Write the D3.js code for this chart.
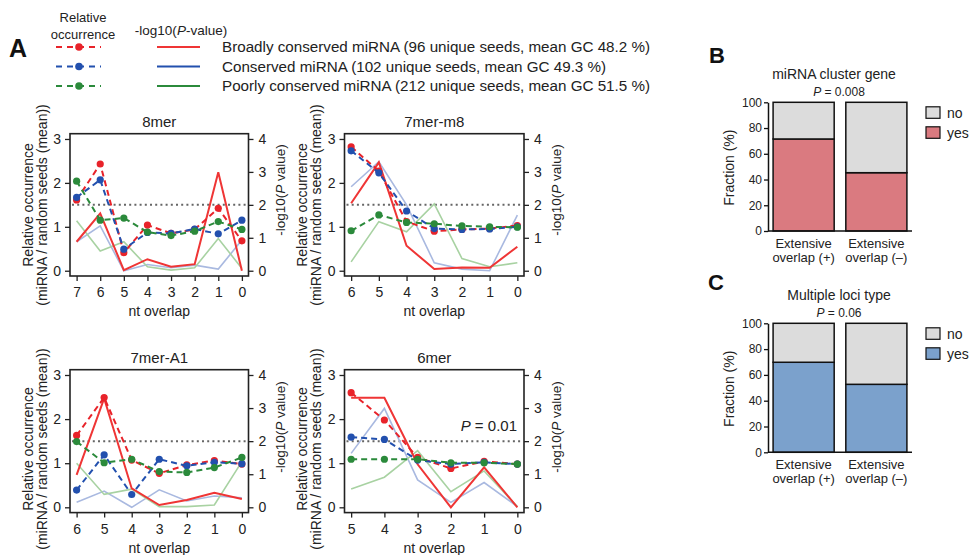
<!DOCTYPE html>
<html><head><meta charset="utf-8">
<script src="https://cdn.jsdelivr.net/npm/d3@7"></script>
<style>
body{margin:0;background:#fff;}
svg{display:block;font-family:"Liberation Sans",Arial,Helvetica,sans-serif;}
</style></head><body>
<svg id="chart" width="971" height="555"></svg>
<script>
// ---------------- DATA ----------------
const seriesNames = [
  "Broadly conserved miRNA (96 unique seeds, mean GC 48.2 %)",
  "Conserved miRNA (102 unique seeds, mean GC 49.3 %)",
  "Poorly conserved miRNA (212 unique seeds, mean GC 51.5 %)"
];
const panelTitles = ["8mer", "7mer-m8", "7mer-A1", "6mer"];

// 8mer
const overlap8mer = [7, 6, 5, 4, 3, 2, 1, 0];
const occ8merBroad = [1.61, 2.43, 0.41, 1.04, 0.85, 0.94, 1.42, 0.68];
const occ8merCons  = [1.67, 2.07, 0.49, 0.87, 0.85, 0.95, 0.84, 1.15];
const occ8merPoor  = [2.04, 1.15, 1.20, 0.88, 0.80, 0.90, 1.12, 0.94];
const logp8merBroad = [0.88, 1.74, 0.02, 0.35, 0.12, 0.20, 2.99, 0.00];
const logp8merCons  = [0.88, 1.36, 0.00, 0.19, 0.09, 0.17, 0.05, 0.93];
const logp8merPoor  = [1.52, 0.60, 0.88, 0.12, 0.02, 0.09, 0.98, 0.07];

// 7mer-m8
const overlapM8 = [6, 5, 4, 3, 2, 1, 0];
const occM8Broad = [2.82, 2.27, 1.12, 0.90, 0.94, 0.96, 1.03];
const occM8Cons  = [2.73, 2.23, 1.36, 0.96, 0.94, 0.95, 1.00];
const occM8Poor  = [0.91, 1.27, 1.10, 1.07, 1.02, 1.00, 0.99];
const logpM8Broad = [2.05, 3.29, 0.76, 0.05, 0.10, 0.09, 0.73];
const logpM8Cons  = [2.55, 3.31, 2.00, 0.24, 0.05, 0.00, 1.69];
const logpM8Poor  = [0.27, 1.49, 1.18, 2.03, 0.37, 0.12, 0.24];

// 7mer-A1
const overlapA1 = [6, 5, 4, 3, 2, 1, 0];
const occA1Broad = [1.63, 2.49, 1.07, 0.77, 0.96, 1.06, 0.98];
const occA1Cons  = [0.39, 1.19, 0.29, 1.09, 0.94, 1.02, 0.99];
const occA1Poor  = [1.49, 1.01, 1.09, 0.81, 0.79, 0.90, 1.13];
const logpA1Broad = [0.98, 3.29, 0.57, 0.07, 0.22, 0.44, 0.25];
const logpA1Cons  = [0.15, 0.49, 0.00, 0.53, 0.19, 0.34, 0.29];
const logpA1Poor  = [1.33, 0.39, 0.55, 0.02, 0.02, 0.07, 1.38];

// 6mer
const overlap6mer = [5, 4, 3, 2, 1, 0];
const occ6merBroad = [2.60, 1.98, 1.13, 0.88, 1.04, 0.98];
const occ6merCons  = [1.59, 1.54, 1.07, 0.98, 1.02, 0.98];
const occ6merPoor  = [1.09, 1.09, 1.09, 1.01, 1.01, 0.98];
const logp6merBroad = [3.31, 3.31, 1.30, 0.00, 1.21, 0.00];
const logp6merCons  = [1.63, 2.99, 0.83, 0.15, 0.75, 0.02];
const logp6merPoor  = [0.55, 0.91, 1.71, 0.47, 1.10, 0.02];

const leftTicks = [0, 1, 2, 3];
const rightTicks = [0, 1, 2, 3, 4];
const pThresholdLog = 2; // P = 0.01

// B / C
const barLine1 = ["Extensive", "Extensive"];
const barLine2 = ["overlap (+)", "overlap (\u2013)"];
const clusterYes = [71.5, 45.3];
const clusterNo  = [28.5, 54.7];
const lociYes = [69.8, 52.7];
const lociNo  = [30.2, 47.3];
const fracTicks = [0, 20, 40, 60, 80, 100];

// ---------------- STYLE ----------------
const INK = "#222";
const dotCol = ["#e8232a", "#2250ae", "#2b8a3b"];
const solidCol = ["#ef3535", "#a9b9e0", "#a8d2a2"];
const svg = d3.select("#chart");

function styleAxis(a, fs) {
  a.attr("font-family", null).attr("font-size", fs);
  a.selectAll("text").attr("fill", INK);
  a.selectAll("line").attr("stroke", INK).attr("stroke-width", 1.3);
  a.select(".domain").remove();
}

// ---------------- PANEL A ----------------
const panels = [
  {title: panelTitles[0], ov: overlap8mer, occ: [occ8merBroad, occ8merCons, occ8merPoor], lp: [logp8merBroad, logp8merCons, logp8merPoor],
   box: {l: 70, r: 248.5, t: 133.7, b: 276}, labY: 205, rLabY: 190},
  {title: panelTitles[1], ov: overlapM8, occ: [occM8Broad, occM8Cons, occM8Poor], lp: [logpM8Broad, logpM8Cons, logpM8Poor],
   box: {l: 344.5, r: 524, t: 133.7, b: 276}, labY: 205, rLabY: 190},
  {title: panelTitles[2], ov: overlapA1, occ: [occA1Broad, occA1Cons, occA1Poor], lp: [logpA1Broad, logpA1Cons, logpA1Poor],
   box: {l: 70, r: 248.5, t: 369.7, b: 512.6}, labY: 449, rLabY: 427},
  {title: panelTitles[3], ov: overlap6mer, occ: [occ6merBroad, occ6merCons, occ6merPoor], lp: [logp6merBroad, logp6merCons, logp6merPoor],
   box: {l: 344.5, r: 524, t: 369.7, b: 512.6}, labY: 449, rLabY: 427, pNote: true}
];

panels.forEach(p => {
  const b = p.box;
  const g = svg.append("g");
  const maxX = d3.max(p.ov);
  const x = d3.scaleLinear().domain([maxX * 1.04, -maxX * 0.04]).range([b.l, b.r]);
  const y = d3.scaleLinear().domain([-0.12, 3.12]).range([b.b, b.t]);
  const yR = d3.scaleLinear().domain([-0.16, 4.16]).range([b.b, b.t]);

  // threshold dotted line
  g.append("line").attr("x1", b.l + 2).attr("x2", b.r - 2)
    .attr("y1", yR(pThresholdLog)).attr("y2", yR(pThresholdLog))
    .attr("stroke", "#666").attr("stroke-width", 2).attr("stroke-dasharray", "2,3.2");

  // solid -log10 P lines (light blue, light green, red)
  const lineR = d3.line().x((d, i) => x(p.ov[i])).y(d => yR(d));
  [1, 2, 0].forEach(s => {
    g.append("path").datum(p.lp[s]).attr("d", lineR).attr("fill", "none")
      .attr("stroke", solidCol[s]).attr("stroke-width", s === 0 ? 2 : 1.6)
      .attr("stroke-linejoin", "miter");
  });

  // dashed relative occurrence lines + points
  const lineL = d3.line().x((d, i) => x(p.ov[i])).y(d => y(d));
  [0, 1, 2].forEach(s => {
    g.append("path").datum(p.occ[s]).attr("d", lineL).attr("fill", "none")
      .attr("stroke", dotCol[s]).attr("stroke-width", 2).attr("stroke-dasharray", "6,4");
    g.selectAll(null).data(p.occ[s]).enter().append("circle")
      .attr("cx", (d, i) => x(p.ov[i])).attr("cy", d => y(d)).attr("r", 3.6)
      .attr("fill", dotCol[s]);
  });

  // box
  g.append("rect").attr("x", b.l).attr("y", b.t).attr("width", b.r - b.l).attr("height", b.b - b.t)
    .attr("fill", "none").attr("stroke", INK).attr("stroke-width", 1.6);

  // axes
  g.append("g").attr("transform", `translate(${b.l},0)`)
    .call(d3.axisLeft(y).tickValues(leftTicks).tickSize(5).tickPadding(4).tickFormat(d3.format("d")))
    .call(a => styleAxis(a, 14));
  g.append("g").attr("transform", `translate(${b.r},0)`)
    .call(d3.axisRight(yR).tickValues(rightTicks).tickSize(5).tickPadding(5).tickFormat(d3.format("d")))
    .call(a => styleAxis(a, 14));
  g.append("g").attr("transform", `translate(0,${b.b})`)
    .call(d3.axisBottom(x).tickValues(p.ov).tickSize(5).tickPadding(6).tickFormat(d3.format("d")))
    .call(a => styleAxis(a, 14));

  const cx = (b.l + b.r) / 2;
  g.append("text").attr("x", cx).attr("y", b.t - 6.5).attr("text-anchor", "middle")
    .attr("font-size", 15).attr("fill", INK).text(p.title);
  g.append("text").attr("x", cx).attr("y", b.b + 40).attr("text-anchor", "middle")
    .attr("font-size", 14).attr("fill", INK).text("nt overlap");

  // left y label (two lines)
  g.append("text").attr("transform", `translate(${b.l - 42},${p.labY}) rotate(-90)`)
    .attr("text-anchor", "middle").attr("dy", "0.35em").attr("font-size", 14).attr("fill", INK)
    .text("Relative occurrence");
  g.append("text").attr("transform", `translate(${b.l - 28},${p.labY}) rotate(-90)`)
    .attr("text-anchor", "middle").attr("dy", "0.35em").attr("font-size", 14).attr("fill", INK)
    .text("(miRNA / random seeds (mean))");

  // right y label
  const rt = g.append("text").attr("transform", `translate(${b.r + 32},${p.rLabY}) rotate(-90)`)
    .attr("text-anchor", "middle").attr("dy", "0.35em").attr("font-size", 13.5).attr("fill", INK);
  rt.append("tspan").text("-log10(");
  rt.append("tspan").attr("font-style", "italic").text("P");
  rt.append("tspan").text(" value)");

  if (p.pNote) {
    const t = g.append("text").attr("x", b.r - 7).attr("y", yR(pThresholdLog) - 10)
      .attr("text-anchor", "end").attr("font-size", 15).attr("fill", INK);
    t.append("tspan").attr("font-style", "italic").text("P");
    t.append("tspan").text(" = 0.01");
  }
});

// ---------------- LEGEND A ----------------
svg.append("text").attr("x", 9).attr("y", 57).attr("font-size", 25).attr("font-weight", "bold")
  .attr("fill", "#111").text("A");
svg.append("text").attr("x", 83).attr("y", 22).attr("text-anchor", "middle").attr("font-size", 13)
  .attr("fill", INK).text("Relative");
svg.append("text").attr("x", 83).attr("y", 39).attr("text-anchor", "middle").attr("font-size", 13)
  .attr("fill", INK).text("occurrence");
{
  const t = svg.append("text").attr("x", 181).attr("y", 35).attr("text-anchor", "middle")
    .attr("font-size", 13.5).attr("fill", INK);
  t.append("tspan").text("-log10(");
  t.append("tspan").attr("font-style", "italic").text("P");
  t.append("tspan").text("-value)");
}
const legY = d3.scalePoint().domain(seriesNames).range([47, 86]);
seriesNames.forEach((name, s) => {
  const yy = legY(name);
  svg.append("line").attr("x1", 55).attr("x2", 101).attr("y1", yy).attr("y2", yy)
    .attr("stroke", dotCol[s]).attr("stroke-width", 2).attr("stroke-dasharray", "6,5").attr("stroke-dashoffset", -1);
  svg.append("circle").attr("cx", 79).attr("cy", yy).attr("r", 3.8).attr("fill", dotCol[s]);
  svg.append("line").attr("x1", 157).attr("x2", 200).attr("y1", yy).attr("y2", yy)
    .attr("stroke", s === 0 ? solidCol[0] : dotCol[s]).attr("stroke-width", 2);
  svg.append("text").attr("x", 222).attr("y", yy).attr("dy", "0.36em").attr("font-size", 15.2)
    .attr("fill", INK).text(name);
});

// ---------------- PANELS B / C ----------------
function barPanel(cfg) {
  const g = svg.append("g");
  const x = d3.scaleBand().domain(barLine2).range([768, 912]).paddingInner(0.16).paddingOuter(0.07);
  const y = d3.scaleLinear().domain([0, 100]).range([cfg.y0, cfg.y100]);
  barLine2.forEach((c, i) => {
    g.append("rect").attr("x", x(c)).attr("width", x.bandwidth())
      .attr("y", y(cfg.yes[i])).attr("height", y(0) - y(cfg.yes[i]))
      .attr("fill", cfg.col).attr("stroke", "#111").attr("stroke-width", 1.5);
    g.append("rect").attr("x", x(c)).attr("width", x.bandwidth())
      .attr("y", y(cfg.yes[i] + cfg.no[i])).attr("height", y(cfg.yes[i]) - y(cfg.yes[i] + cfg.no[i]))
      .attr("fill", "#dcdcdc").attr("stroke", "#111").attr("stroke-width", 1.5);
    g.append("text").attr("x", x(c) + x.bandwidth() / 2).attr("y", cfg.y0 + 17).attr("text-anchor", "middle")
      .attr("font-size", 13).attr("fill", INK).text(barLine1[i]);
    g.append("text").attr("x", x(c) + x.bandwidth() / 2).attr("y", cfg.y0 + 31).attr("text-anchor", "middle")
      .attr("font-size", 13).attr("fill", INK).text(barLine2[i]);
  });
  g.append("line").attr("x1", 768).attr("x2", 912).attr("y1", y(0)).attr("y2", y(0))
    .attr("stroke", "#111").attr("stroke-width", 1.5);
  g.append("g").attr("transform", "translate(768,0)")
    .call(d3.axisLeft(y).tickValues(fracTicks).tickSize(4).tickPadding(2).tickSizeOuter(0))
    .call(a => {
      a.attr("font-family", null).attr("font-size", 12);
      a.selectAll("text").attr("fill", INK);
      a.selectAll("line").attr("stroke", "#111").attr("stroke-width", 1.3);
      a.select(".domain").attr("stroke", "#111").attr("stroke-width", 1.5);
    });
  g.append("text").attr("transform", `translate(729,${(cfg.y0 + cfg.y100) / 2 + 1}) rotate(-90)`)
    .attr("text-anchor", "middle").attr("dy", "0.35em").attr("font-size", 14).attr("fill", INK)
    .text("Fraction (%)");
  g.append("text").attr("x", cfg.titleX).attr("y", cfg.y100 - 23).attr("text-anchor", "middle")
    .attr("font-size", 14).attr("fill", INK).text(cfg.title);
  const pt = g.append("text").attr("x", 839).attr("y", cfg.y100 - 6).attr("text-anchor", "middle")
    .attr("font-size", 12).attr("fill", INK);
  pt.append("tspan").attr("font-style", "italic").text("P");
  pt.append("tspan").text(" = " + cfg.p);
  g.append("text").attr("x", cfg.letterX).attr("y", cfg.letterY).attr("font-size", 22).attr("font-weight", "bold")
    .attr("fill", "#111").text(cfg.letter);
  // legend
  const legItems = ["no", "yes"];
  const legCols = ["#dcdcdc", cfg.col];
  legItems.forEach((l, i) => {
    const top = cfg.y100 + 4.5 + i * 20;
    g.append("rect").attr("x", 926).attr("y", top).attr("width", 14).attr("height", 11.5)
      .attr("fill", legCols[i]).attr("stroke", "#111").attr("stroke-width", 1.2);
    g.append("text").attr("x", 947).attr("y", top + 6).attr("dy", "0.35em").attr("font-size", 14)
      .attr("fill", INK).text(l);
  });
}
barPanel({yes: clusterYes, no: clusterNo, col: "#da7a80", y0: 231, y100: 102.3, title: "miRNA cluster gene",
  p: "0.008", letter: "B", letterX: 709, letterY: 63, titleX: 834});
barPanel({yes: lociYes, no: lociNo, col: "#7ba1cc", y0: 452.3, y100: 323.3, title: "Multiple loci type",
  p: "0.06", letter: "C", letterX: 708, letterY: 290, titleX: 839});
</script></body></html>
